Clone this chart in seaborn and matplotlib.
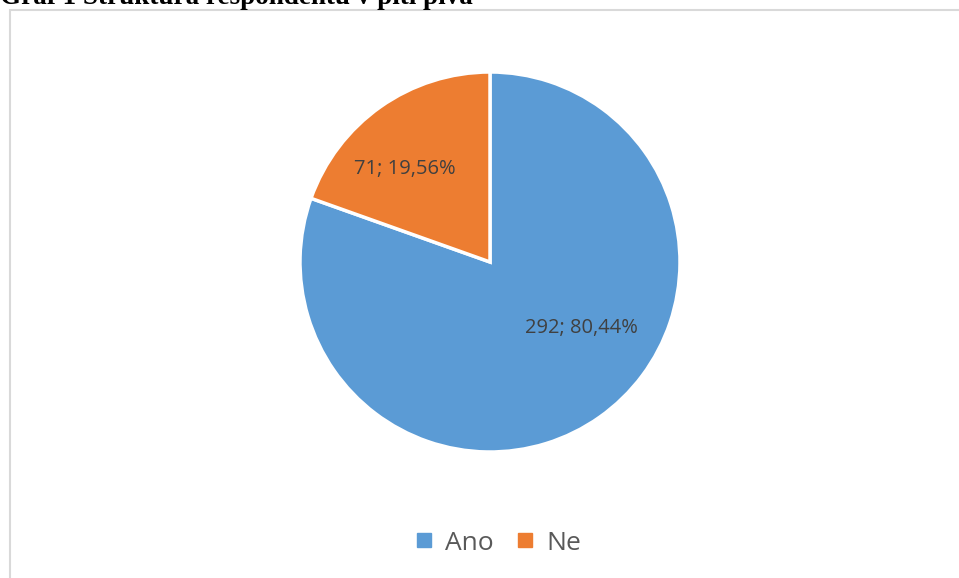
import matplotlib
matplotlib.use("Agg")
import matplotlib.pyplot as plt
from matplotlib.lines import Line2D
import seaborn as sns

# Data
categories = ["Ano", "Ne"]
counts = [292, 71]
percent_labels = ["80,44%", "19,56%"]
colors = ["#5B9BD5", "#ED7D31"]

sns.set_theme(style="white")
plt.rcParams["font.family"] = ["Open Sans", "DejaVu Sans"]

W, H = 959, 578
fig = plt.figure(figsize=(W / 100, H / 100), dpi=100)
fig.patch.set_facecolor("white")

# Chart area frame (top and left edges fall inside the canvas)
frame = plt.Rectangle((10 / W, -0.1), 1.2, 1 - 10 / H + 0.1, transform=fig.transFigure,
                      fill=False, edgecolor="#D9D9D9", linewidth=1.5)
fig.patches.append(frame)

# Title
fig.text(0, 1 - 4 / H, "Graf 1 Struktura respondentů v pití piva",
         family=["Liberation Serif", "DejaVu Serif"], fontweight="bold",
         fontsize=19.5, va="baseline", ha="left", color="black")

# Pie
cx, cy, r = 490, 262, 190
ax = fig.add_axes([(cx - r) / W, 1 - (cy + r) / H, 2 * r / W, 2 * r / H])
wedges, _ = ax.pie(counts, colors=colors, startangle=90, counterclock=False,
                   wedgeprops=dict(edgecolor="white", linewidth=2.5))
ax.set_xlim(-1, 1)
ax.set_ylim(-1, 1)
ax.set_aspect("equal")
ax.axis("off")

label_pos = [(0.48, -0.35), (-0.45, 0.49)]
for (x, y), n, p in zip(label_pos, counts, percent_labels):
    ax.text(x, y, f"{n}; {p}", ha="center", va="center", fontsize=14.5, color="#404040")

# Legend
handles = [Line2D([], [], marker="s", linestyle="none", markersize=9.5,
                  markerfacecolor=c, markeredgecolor=c) for c in colors]
fig.legend(handles, categories, loc="center", bbox_to_anchor=(497 / W, 1 - 543 / H),
           ncol=2, frameon=False, fontsize=19, labelcolor="#595959",
           handletextpad=0.4, columnspacing=0.8, handlelength=0.8)

fig.savefig("out.png", dpi=100)
